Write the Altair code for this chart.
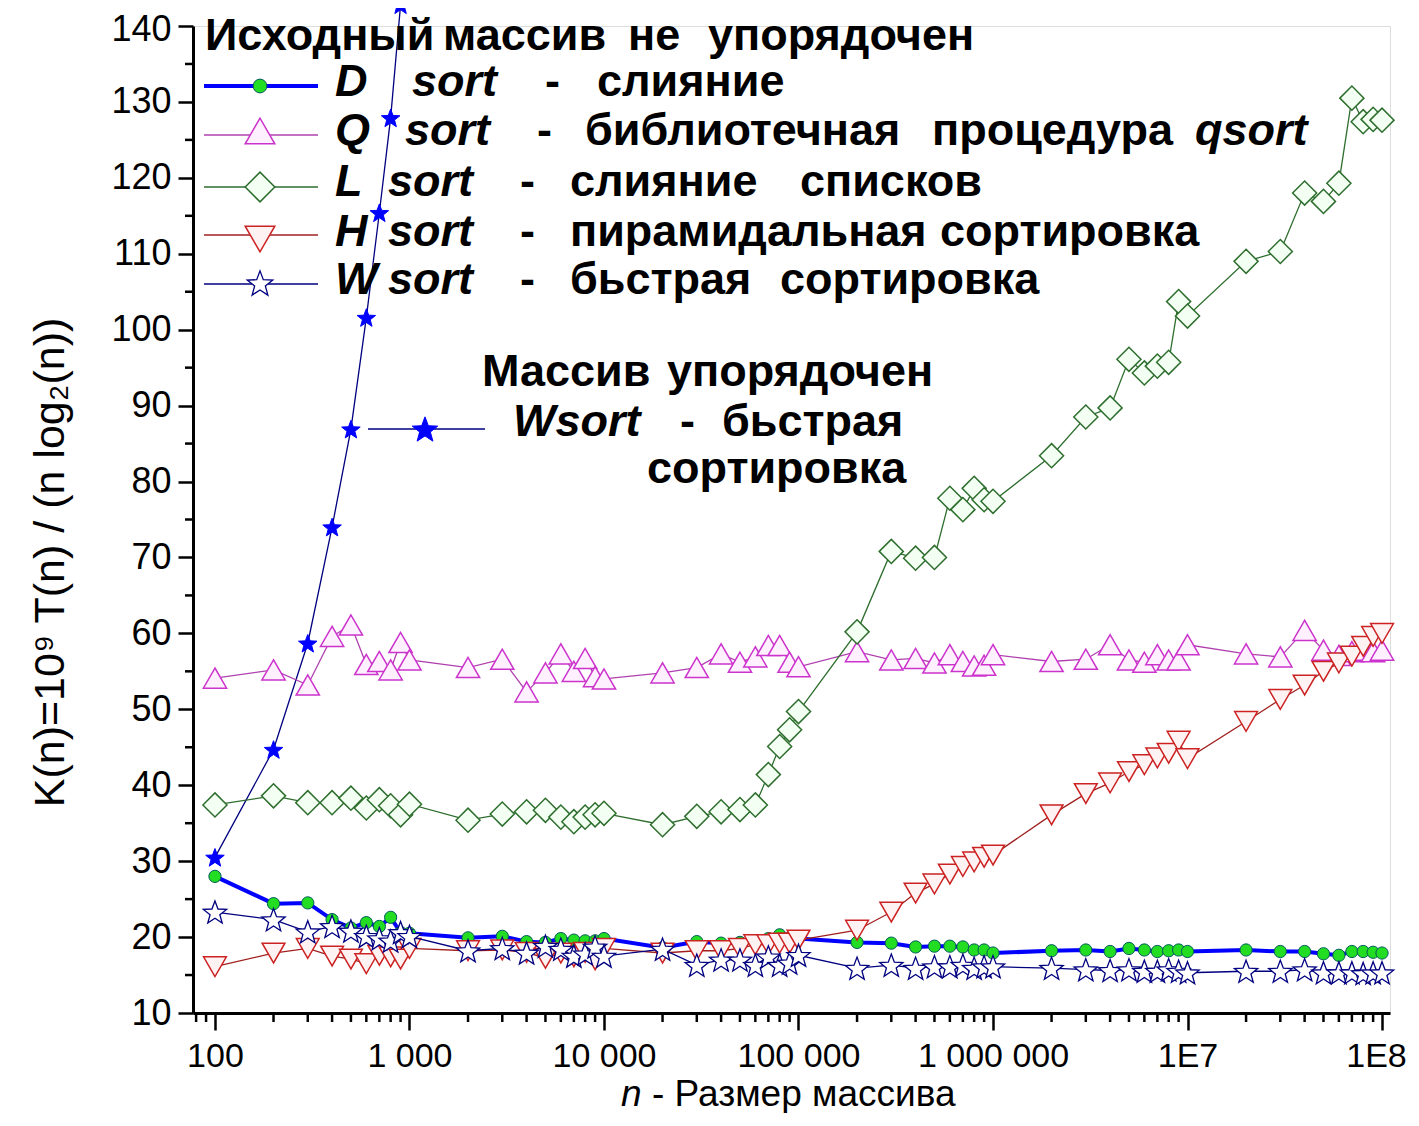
import math
import altair as alt
import pandas as pd

# ---------------- data ----------------
N = [100, 200, 300, 400, 500, 600, 700, 800, 900,
     1000, 2000, 3000, 4000, 5000, 6000, 7000, 8000, 9000,
     10000, 20000, 30000, 40000, 50000, 60000, 70000, 80000, 90000,
     100000, 200000, 300000, 400000, 500000, 600000, 700000, 800000, 900000,
     1000000, 2000000, 3000000, 4000000, 5000000, 6000000, 7000000, 8000000, 9000000,
     10000000, 20000000, 30000000, 40000000, 50000000, 60000000, 70000000, 80000000, 90000000,
     100000000]

D_SORT = [28.0, 24.4, 24.5, 22.3, 21.2, 21.9, 21.4, 22.6, 20.6,
          20.5, 19.9, 20.1, 19.4, 19.3, 19.8, 19.6, 19.5, 19.5,
          19.8, 18.6, 19.4, 19.2, 19.3, 19.5, 19.8, 20.3, 19.9,
          19.8, 19.3, 19.2, 18.7, 18.8, 18.8, 18.7, 18.3, 18.3,
          17.9, 18.2, 18.3, 18.1, 18.5, 18.3, 18.1, 18.2, 18.3,
          18.1, 18.3, 18.1, 18.1, 17.8, 17.6, 18.1, 18.1, 18.0,
          17.9]

Q_SORT = [54.1, 55.2, 53.2, 59.6, 61.1, 55.9, 56.3, 55.2, 58.8,
          56.5, 55.5, 56.6, 52.3, 54.8, 57.3, 55.0, 56.7, 54.3,
          54.0, 54.8, 55.5, 57.3, 56.2, 56.9, 58.4, 58.4, 56.2,
          55.6, 57.6, 56.5, 56.7, 56.1, 57.2, 56.3, 55.7, 55.8,
          57.2, 56.3, 56.6, 58.5, 56.5, 56.2, 57.2, 56.5, 56.5,
          58.5, 57.3, 56.9, 60.4, 57.8, 57.1, 57.6, 57.8, 57.6,
          57.8]

L_SORT = [37.4, 38.6, 37.7, 37.7, 38.3, 37.0, 38.1, 37.3, 36.1,
          37.5, 35.4, 36.2, 36.5, 36.7, 35.8, 35.2, 35.8, 36.1,
          36.3, 34.8, 35.9, 36.5, 36.8, 37.4, 41.4, 45.1, 47.3,
          49.7, 60.2, 70.8, 69.9, 70.0, 77.8, 76.3, 79.1, 77.6,
          77.4, 83.4, 88.5, 89.7, 96.1, 94.3, 95.2, 95.7, 103.7,
          101.8, 109.0, 110.3, 118.0, 116.9, 119.3, 130.5, 127.4, 127.7,
          127.6]

H_SORT = [16.1, 17.9, 18.5, 17.5, 17.1, 16.5, 17.6, 17.4, 17.1,
          18.5, 18.2, 18.3, 18.0, 17.2, 17.9, 17.4, 18.0, 17.0,
          18.5, 17.9, 18.2, 18.2, 18.5, 19.0, 19.0, 19.2, 19.2,
          19.6, 20.9, 23.3, 25.8, 27.0, 28.3, 29.3, 29.9, 30.5,
          30.8, 36.1, 38.9, 40.3, 41.8, 42.7, 43.6, 44.2, 45.8,
          43.5, 48.4, 51.3, 53.2, 55.0, 56.1, 57.0, 58.3, 59.6,
          60.0]

W_SORT = [23.3, 22.3, 20.7, 21.4, 20.8, 20.1, 19.8, 19.5, 20.6,
          20.1, 18.2, 18.5, 17.9, 18.8, 18.4, 17.5, 17.8, 18.7,
          17.5, 18.4, 16.3, 17.0, 17.0, 16.3, 17.4, 16.3, 16.6,
          17.6, 15.9, 16.3, 15.9, 16.1, 16.1, 16.3, 15.9, 16.1,
          16.1, 15.9, 15.7, 15.6, 15.7, 15.5, 15.5, 15.7, 15.5,
          15.3, 15.5, 15.5, 15.7, 15.3, 15.3, 15.3, 15.2, 15.3,
          15.3]

N_ORDERED = [100, 200, 300, 400, 500, 600, 700, 800, 900]
W_ORDERED = [30.5, 44.7, 58.7, 74.0, 86.9, 101.6, 115.4, 127.9, 142.8]

X_TICKS = [100, 1000, 10000, 100000, 1000000, 10000000, 100000000]
X_TICK_LABELS = ["100", "1 000", "10 000", "100 000", "1 000 000", "1E7", "1E8"]
Y_TICKS = [10, 20, 30, 40, 50, 60, 70, 80, 90, 100, 110, 120, 130, 140]
Y_MINOR = [15, 25, 35, 45, 55, 65, 75, 85, 95, 105, 115, 125, 135]
X_MINOR = [m * 10 ** k for k in range(1, 8) for m in range(2, 10) if 77 <= m * 10 ** k <= 1.1e8]

Y_TITLE = "K(n)=10⁹ T(n) / (n log₂(n))"
X_TITLE_N = "n"
X_TITLE_REST = "- Размер массива"

# legend / annotation texts (page x, page baseline y)
BOLD_TEXT = [
    ("Исходный", 205, 50), ("массив", 443, 50), ("не", 628, 50), ("упорядочен", 708, 50),
    ("-", 545, 96), ("слияние", 597, 96),
    ("-", 537, 145), ("библиотечная", 585, 145), ("процедура", 932, 145),
    ("-", 520, 196), ("слияние", 570, 196), ("списков", 800, 196),
    ("-", 520, 246), ("пирамидальная", 570, 246), ("сортировка", 940, 246),
    ("-", 520, 294), ("бьстрая", 570, 294), ("сортировка", 780, 294),
    ("Массив", 482, 386), ("упорядочен", 667, 386),
    ("-", 680, 436), ("бьстрая", 722, 436), ("сортировка", 647, 483),
]
BOLD_ITALIC_TEXT = [
    ("D", 335, 96), ("sort", 412, 96),
    ("Q", 335, 145), ("sort", 405, 145), ("qsort", 1195, 145),
    ("L", 335, 196), ("sort", 388, 196),
    ("H", 335, 246), ("sort", 388, 246),
    ("W", 335, 294), ("sort", 388, 294),
    ("Wsort", 513, 436),
]

# ---------------- geometry / style ----------------
PLOT_LEFT, PLOT_TOP = 193, 26
W, H = 1197, 987
X_SCALE = alt.Scale(type="log", domain=[77.1, 1.099e8], nice=False)
Y_SCALE = alt.Scale(domain=[10, 140], nice=False, zero=False)
FONT = "Liberation Sans"
TEXT_SIZE = 45


def star_path(inner=0.42):
    pts = []
    for i in range(10):
        r = 1.0 if i % 2 == 0 else inner
        a = -math.pi / 2 + i * math.pi / 5
        pts.append((r * math.cos(a), r * math.sin(a) + 0.095))
    return "M" + "L".join(f"{x:.3f},{y:.3f}" for x, y in pts) + "Z"


STAR = star_path()

STYLES = {
    "D": dict(line="#0000ff", lw=4, shape="circle", size=150, fill="#22dd22", stroke="#005a5a", sw=1, lsize=190),
    "Q": dict(line="#b040b0", lw=1.3, shape="triangle-up", size=540, fill="#fff0ff", stroke="#cc33cc", sw=1.5, lsize=880),
    "L": dict(line="#2e6e2e", lw=1.3, shape="diamond", size=580, fill="#f2fff2", stroke="#2e6e2e", sw=1.5, lsize=880),
    "H": dict(line="#a02020", lw=1.3, shape="triangle-down", size=520, fill="#fff2f2", stroke="#cc2222", sw=1.5, lsize=880),
    "W": dict(line="#000080", lw=1.3, shape=STAR, size=600, fill="#ffffff", stroke="#000080", sw=1.3, lsize=720),
    "WO": dict(line="#000080", lw=1.3, shape=STAR, size=380, fill="#0000ff", stroke="#0000ff", sw=1, lsize=720),
}


def series_layers(xs, ys, key):
    st = STYLES[key]
    df = pd.DataFrame({"n": xs, "K": ys})
    base = alt.Chart(df).encode(
        x=alt.X("n:Q", scale=X_SCALE, axis=None),
        y=alt.Y("K:Q", scale=Y_SCALE, axis=None),
    )
    line = base.mark_line(color=st["line"], strokeWidth=st["lw"])
    pts = base.mark_point(shape=st["shape"], size=st["size"], filled=True, fill=st["fill"],
                          stroke=st["stroke"], strokeWidth=st["sw"], opacity=1, fillOpacity=1)
    return [line, pts]


def legend_sample(key, x1, x2, yline, xm, ym, lw=None):
    st = STYLES[key]
    one = pd.DataFrame({"a": [0]})
    rule = alt.Chart(one).mark_rule(color=st["line"], strokeWidth=lw or st["lw"]).encode(
        x=alt.value(x1 - PLOT_LEFT), x2=alt.value(x2 - PLOT_LEFT), y=alt.value(yline - PLOT_TOP))
    mk = alt.Chart(one).mark_point(shape=st["shape"], size=st["lsize"], filled=True, fill=st["fill"],
                                   stroke=st["stroke"], strokeWidth=st["sw"], opacity=1).encode(
        x=alt.value(xm - PLOT_LEFT), y=alt.value(ym - PLOT_TOP))
    return [rule, mk]


def text_layer(rows, italic, bold, size):
    df = pd.DataFrame({
        "t": [r[0] for r in rows],
        "px": [r[1] - PLOT_LEFT for r in rows],
        "py": [r[2] - PLOT_TOP for r in rows],
    })
    return alt.Chart(df).mark_text(
        align="left", baseline="alphabetic", font=FONT, fontSize=size,
        fontStyle="italic" if italic else "normal", fontWeight="bold" if bold else "normal",
        color="black",
    ).encode(
        x=alt.X("px:Q", scale=None, axis=None),
        y=alt.Y("py:Q", scale=None, axis=None),
        text="t:N",
    )


# ---------------- axes ----------------
label_expr = "[" + ",".join(f"'{l}'" for l in X_TICK_LABELS) + "][round(log(datum.value)/LN10) - 2]"

axis_df = pd.DataFrame({"n": [100, 1e8], "K": [10, 140]})
axis_layer = alt.Chart(axis_df).mark_point(opacity=0).encode(
    x=alt.X("n:Q", scale=X_SCALE, axis=alt.Axis(
        values=X_TICKS, labelExpr=label_expr, tickSize=17, tickWidth=2.5, tickColor="black",
        domainWidth=3, domainColor="black", labelFont=FONT, labelFontSize=34, labelColor="black",
        labelPadding=9, grid=False, title=None, labelFlush=False, labelOverlap=False,
        labelOffset={"condition": {"test": "datum.value > 5e7", "value": -6}, "value": 0})),
    y=alt.Y("K:Q", scale=Y_SCALE, axis=alt.Axis(
        values=Y_TICKS, format="d", tickSize=15, tickWidth=2.5, tickColor="black",
        domainWidth=3, domainColor="black", labelFont=FONT, labelFontSize=36, labelColor="black",
        labelPadding=7, grid=False, labelFlush=False, labelOverlap=False,
        labelOffset={"condition": {"test": "datum.value > 135", "value": 3}, "value": 0},
        title=Y_TITLE, titleFont=FONT, titleFontSize=43, titleFontWeight="normal", titleColor="black",
        titleAngle=270, titleX=50 - PLOT_LEFT, titleY=562 - PLOT_TOP, titleAlign="center",
        titleBaseline="middle")),
)

x_minor = alt.Chart(pd.DataFrame({"v": X_MINOR})).mark_rule(color="black", strokeWidth=2.5).encode(
    x=alt.X("v:Q", scale=X_SCALE, axis=None), y=alt.value(H), y2=alt.value(H + 9))
y_minor = alt.Chart(pd.DataFrame({"v": Y_MINOR})).mark_rule(color="black", strokeWidth=2.5).encode(
    y=alt.Y("v:Q", scale=Y_SCALE, axis=None), x=alt.value(-8), x2=alt.value(0))

layers = [axis_layer, x_minor, y_minor]
layers += series_layers(N_ORDERED, W_ORDERED, "WO")
layers += series_layers(N, D_SORT, "D")
layers += series_layers(N, Q_SORT, "Q")
layers += series_layers(N, L_SORT, "L")
layers += series_layers(N, H_SORT, "H")
layers += series_layers(N, W_SORT, "W")

# legend samples
layers += legend_sample("D", 204, 318, 86, 260, 86)
layers += legend_sample("Q", 204, 318, 135, 260, 131)
layers += legend_sample("L", 204, 318, 187, 260, 187)
layers += legend_sample("H", 204, 318, 235, 260, 239)
layers += legend_sample("W", 204, 318, 284, 260, 283)
layers += legend_sample("WO", 368, 485, 429, 425, 429)

layers.append(text_layer(BOLD_TEXT, italic=False, bold=True, size=TEXT_SIZE))
layers.append(text_layer(BOLD_ITALIC_TEXT, italic=True, bold=True, size=TEXT_SIZE))
layers.append(text_layer([(X_TITLE_N, 621, 1106)], italic=True, bold=False, size=37))
layers.append(text_layer([(X_TITLE_REST, 652, 1106)], italic=False, bold=False, size=37))

chart = alt.layer(*layers).resolve_scale(x="independent", y="independent").properties(
    width=W, height=H,
    padding={"left": PLOT_LEFT - 8, "top": PLOT_TOP - 8, "right": 21, "bottom": 100},
    autosize=alt.AutoSizeParams(type="none"),
).configure_view(strokeWidth=0).configure(background="white")

chart.save("out.html", embed_options={"renderer": "svg", "actions": False})
